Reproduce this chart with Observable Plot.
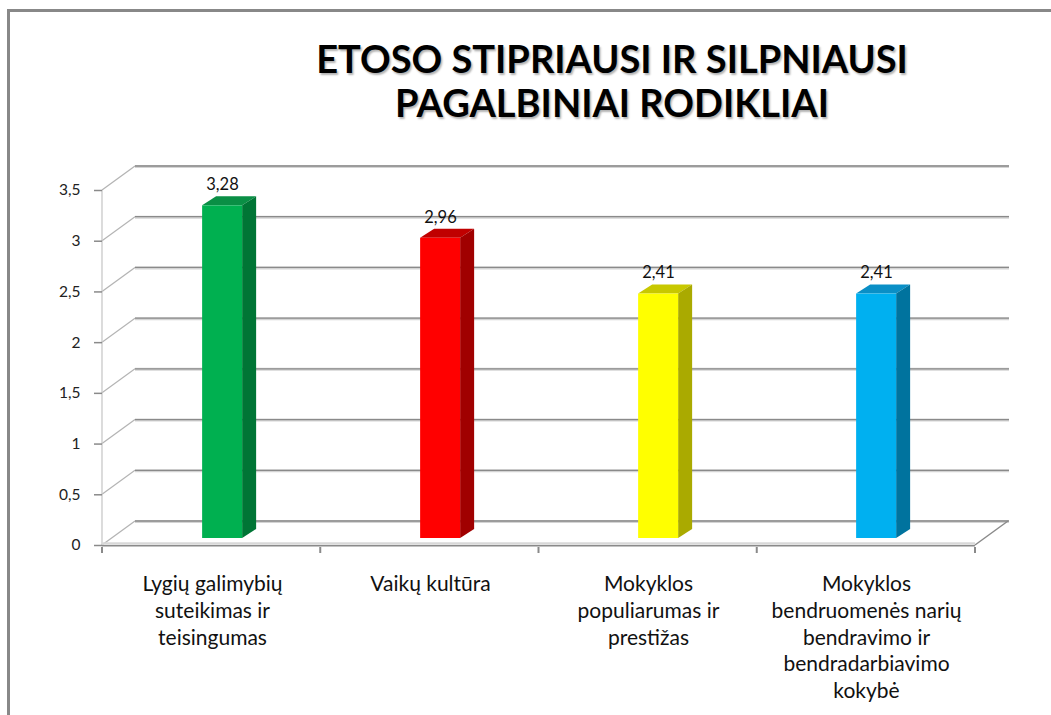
<!DOCTYPE html>
<html>
<head>
<meta charset="utf-8">
<script src="https://cdn.jsdelivr.net/npm/d3@7"></script>
<script src="https://cdn.jsdelivr.net/npm/@observablehq/plot@0.6"></script>
<style>
  body { margin: 0; background: #fff; }
  #wrap { position: relative; width: 1051px; height: 715px; overflow: hidden; background: #fff; }
  #frame { position: absolute; left: 7px; top: 9px; right: -10px; bottom: -10px;
           border-left: 3px solid #888; border-top: 3px solid #888; }
  #title { position: absolute; left: 212px; width: 800px; top: 36px; text-align: center;
           font-family: Lato, "Open Sans", sans-serif; font-weight: bold; font-size: 38px;
           line-height: 44px; white-space: nowrap; color: #000;
           text-shadow: 1.5px 1.5px 2px rgba(0,0,0,0.3); }
  #chart { position: absolute; left: 0; top: 150px; }
</style>
</head>
<body>
<div id="wrap">
  <div id="frame"></div>
  <div id="title">ETOSO STIPRIAUSI IR SILPNIAUSI<br>PAGALBINIAI RODIKLIAI</div>
  <div id="chart"></div>
</div>
<script>
// ---- data ----
const categories = [
  "Lygių galimybių\nsuteikimas ir\nteisingumas",
  "Vaikų kultūra",
  "Mokyklos\npopuliarumas ir\nprestižas",
  "Mokyklos\nbendruomenės narių\nbendravimo ir\nbendradarbiavimo\nkokybė"
];
const values = [3.28, 2.96, 2.41, 2.41];
const yTicks = [0, 0.5, 1, 1.5, 2, 2.5, 3, 3.5];

// ---- styles ----
const frontColors = ["#00B050", "#FF0000", "#FFFF00", "#00B0F0"];
const topColors   = ["#0A8F45", "#C00000", "#C8C800", "#0A8FC6"];
const sideColors  = ["#007535", "#A00000", "#AAAA00", "#00739E"];

const fmt = d => String(d).replace(".", ",");
const data = categories.map((c, i) => ({cat: c, value: values[i], i}));

const WALL_DX = 33, WALL_DY = 24;   // perspective depth of walls
const BAR_DX = 14, BAR_DY = 9;      // depth of each bar
const BAR_W = 40, BAR_SHIFT = 10, BAR_LIFT = 7;

function scene(index, scales, vals, dims) {
  const x = scales.x, y = scales.y;
  const x0 = dims.marginLeft, x1 = dims.width - dims.marginRight;
  const bw = (x1 - x0) / categories.length;
  const g = d3.create("svg:g");
  const line = (xa, ya, xb, yb, stroke, w) =>
    g.append("line").attr("x1", xa).attr("y1", ya).attr("x2", xb).attr("y2", yb)
     .attr("stroke", stroke).attr("stroke-width", w);
  const y0 = y(0);
  // back wall gridlines + side wall diagonals
  for (const v of yTicks) {
    const yy = y(v);
    line(x0, yy, x0 + WALL_DX, yy - WALL_DY, "#b4b4b4", 1.2);
    line(x0 + WALL_DX, yy - WALL_DY + 0.5, x1 + WALL_DX + 1, yy - WALL_DY + 0.5, "#d4d4d4", 3);
    line(x0 + WALL_DX, yy - WALL_DY, x1 + WALL_DX + 1, yy - WALL_DY, "#8a8a8a", 1.3);
  }
  // left front edge
  line(x0, y(3.5), x0, y0, "#c4c4c4", 1.2);
  // floor
  line(x0, y0 - 1.5, x1, y0 - 1.5, "#d8d8d8", 2.5);
  line(x0, y0 + 0.7, x1, y0 + 0.7, "#8a8a8a", 1.6);
  line(x1, y0, x1 + WALL_DX, y0 - WALL_DY, "#8a8a8a", 1.4);
  // category ticks
  for (let k = 0; k <= categories.length; k++) {
    line(x0 + k * bw, y0 + 2, x0 + k * bw, y0 + 8, "#8a8a8a", 2);
  }
  // bars
  for (const d of data) {
    const cx = x(d.cat) + bw / 2 + BAR_SHIFT;
    const L = cx - BAR_W / 2, R = cx + BAR_W / 2;
    const T = y(d.value) - BAR_LIFT, B = y(0) - BAR_LIFT;
    g.append("polygon")
      .attr("points", [[L, T], [L + BAR_DX, T - BAR_DY], [R + BAR_DX, T - BAR_DY], [R, T]].join(" "))
      .attr("fill", topColors[d.i]);
    g.append("polygon")
      .attr("points", [[R, T], [R + BAR_DX, T - BAR_DY], [R + BAR_DX, B - BAR_DY], [R, B]].join(" "))
      .attr("fill", sideColors[d.i]);
    g.append("rect").attr("x", L).attr("y", T).attr("width", BAR_W).attr("height", B - T)
      .attr("fill", frontColors[d.i]);
  }
  return g.node();
}

const chart = Plot.plot({
  width: 1051,
  height: 565,
  marginLeft: 102,
  marginRight: 76,
  marginTop: 40,
  marginBottom: 170,
  style: {fontFamily: "Lato, 'Open Sans', sans-serif", background: "transparent", color: "#1a1a1a"},
  x: {type: "band", domain: categories, padding: 0, axis: null},
  y: {domain: [0, 3.5]},
  marks: [
    scene,
    Plot.axisY({ticks: yTicks, tickFormat: fmt, tickSize: 8, tickPadding: 14,
                fontSize: 15.5, stroke: "#8a8a8a", strokeWidth: 1.5, fill: "#222", label: null}),
    Plot.text(data, {x: "cat", y: "value", text: d => fmt(d.value), dx: BAR_SHIFT, dy: -28,
                     fontSize: 16.5, fill: "#111"}),
    Plot.text(data, {x: "cat", y: 0, text: "cat", lineAnchor: "top", dy: 27,
                     fontSize: 21, lineHeight: 1.27, fill: "#111"})
  ]
});
document.getElementById("chart").appendChild(chart);
</script>
</body>
</html>
